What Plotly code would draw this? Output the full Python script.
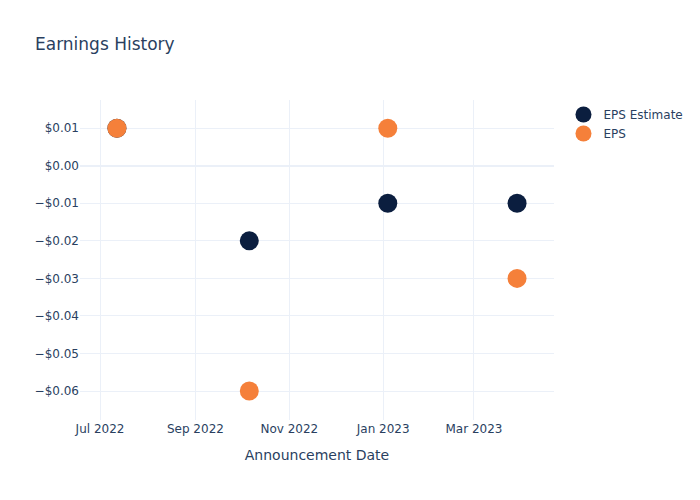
import plotly.graph_objects as go

dates = ["2022-07-12", "2022-10-06", "2023-01-04", "2023-03-29"]
eps_estimate = [0.01, -0.02, -0.01, -0.01]
eps_actual = [0.01, -0.06, 0.01, -0.03]

fig = go.Figure()
fig.add_trace(go.Scatter(x=dates, y=eps_estimate, mode="markers", name="EPS Estimate",
                         marker=dict(color="#0b1e3f", size=19)))
fig.add_trace(go.Scatter(x=dates, y=eps_actual, mode="markers", name="EPS",
                         marker=dict(color="#f5803a", size=19)))

fig.update_layout(
    template="plotly_white",
    width=700, height=500,
    font=dict(family="DejaVu Sans"),
    title=dict(text="Earnings History"),
    xaxis=dict(title=dict(text="Announcement Date"), range=["2022-06-18", "2023-04-22"],
               dtick="M2", tickformat="%b %Y"),
    yaxis=dict(tickformat="$.2f", range=[-0.0677, 0.0175], dtick=0.01),
)
fig.write_html("out.html")
